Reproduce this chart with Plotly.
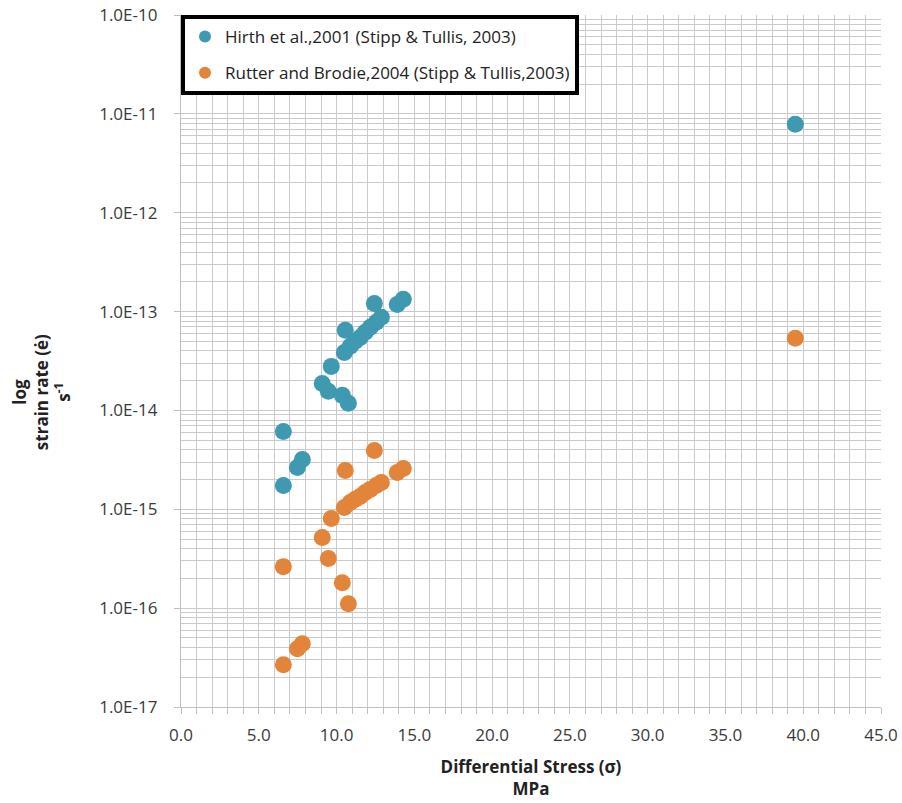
import plotly.graph_objects as go

stress = [6.58, 6.58, 7.48, 7.80, 9.08, 9.47, 9.66, 10.37, 10.76, 10.50, 10.56,
          10.88, 11.20, 11.52, 11.84, 12.17, 12.55, 12.88, 12.43, 13.90, 14.29, 39.49]
hirth = [6.12e-15, 1.74e-15, 2.65e-15, 3.19e-15, 1.87e-14, 1.56e-14, 2.79e-14, 1.42e-14,
         1.18e-14, 3.86e-14, 6.46e-14, 4.45e-14, 5.00e-14, 5.48e-14, 6.17e-14, 6.93e-14,
         7.78e-14, 8.75e-14, 1.21e-13, 1.18e-13, 1.33e-13, 7.87e-12]
rutter = [2.63e-16, 2.68e-17, 3.89e-17, 4.37e-17, 5.18e-16, 3.17e-16, 8.05e-16, 1.81e-16,
          1.11e-16, 1.04e-15, 2.47e-15, 1.17e-15, 1.26e-15, 1.35e-15, 1.48e-15, 1.59e-15,
          1.74e-15, 1.87e-15, 3.94e-15, 2.36e-15, 2.59e-15, 5.36e-14]

series_names = ["Hirth et al.,2001 (Stipp & Tullis, 2003)",
                "Rutter and Brodie,2004 (Stipp & Tullis,2003)"]
x_ticks = [0, 5, 10, 15, 20, 25, 30, 35, 40, 45]
y_exps = [-17, -16, -15, -14, -13, -12, -11, -10]
y_tick_labels = ["1.0E-17", "1.0E-16", "1.0E-15", "1.0E-14", "1.0E-13", "1.0E-12", "1.0E-11", "1.0E-10"]
y_title = "<b>log<br>strain rate (ė)<br>s<sup>-1</sup></b>"
x_title = "<b>Differential Stress (σ)<br>MPa</b>"

y_major = [10.0 ** e for e in y_exps]
y_minor = [m * 10.0 ** e for e in y_exps[:-1] for m in range(2, 10)]

FONT = "Open Sans"
TXT = "#3A3A3A"
GRID = "#CACACA"

fig = go.Figure()
fig.add_trace(go.Scatter(x=stress, y=hirth, mode="markers", name=series_names[0],
                         legendgroup="a",
                         marker=dict(size=17, color="#3E99B1")))
fig.add_trace(go.Scatter(x=stress, y=rutter, mode="markers", name=series_names[1],
                         legendgroup="b",
                         marker=dict(size=17, color="#E2843A")))

fig.update_layout(
    width=902, height=803,
    margin=dict(l=181, r=21, t=15, b=96),
    paper_bgcolor="white", plot_bgcolor="white",
    font=dict(family=FONT, size=17, color=TXT),
    showlegend=True,
    legend=dict(x=0, y=1, xanchor="left", yanchor="top",
                bgcolor="white", bordercolor="black", borderwidth=4,
                font=dict(family=FONT, size=17, color="#222"),
                traceorder="grouped", tracegroupgap=11,
                itemsizing="constant"),
)

fig.update_xaxes(
    range=[0, 45], tickvals=x_ticks, tickformat=".1f", automargin=False,
    ticklabeloverflow="allow",
    showgrid=True, gridcolor=GRID, gridwidth=1.3,
    ticks="outside", ticklen=6, tickcolor="#BFBFBF",
    showline=True, linecolor="#BFBFBF", linewidth=1.3,
    mirror=False, zeroline=False, ticklabelstandoff=6,
    minor=dict(dtick=1, showgrid=True, gridcolor=GRID, gridwidth=1.3,
               ticks="outside", ticklen=6, tickcolor="#BFBFBF"),
    tickfont=dict(family=FONT, size=17, color=TXT),
    title=dict(text=x_title,
               font=dict(family=FONT, size=17, color="#222"), standoff=16),
)

fig.update_yaxes(
    type="log", range=[-17, -10], automargin=False,
    ticklabeloverflow="allow",
    tickvals=y_major, ticktext=y_tick_labels,
    showgrid=True, gridcolor=GRID, gridwidth=1.3,
    ticks="outside", ticklen=6, tickcolor="#BFBFBF",
    showline=True, linecolor="#BFBFBF", linewidth=1.3,
    ticklabelstandoff=13,
    minor=dict(tickvals=y_minor, showgrid=True, gridcolor=GRID, gridwidth=1.3, ticks=""),
    tickfont=dict(family=FONT, size=17, color=TXT),
)

fig.add_annotation(
    text=y_title, textangle=-90, showarrow=False,
    xref="paper", yref="paper", x=-0.2, y=0.455,
    xanchor="center", yanchor="middle",
    font=dict(family=FONT, size=17, color="#222"),
)

fig.write_html("out.html", config={"displayModeBar": False},
               post_script="document.body.style.margin='0px';")
